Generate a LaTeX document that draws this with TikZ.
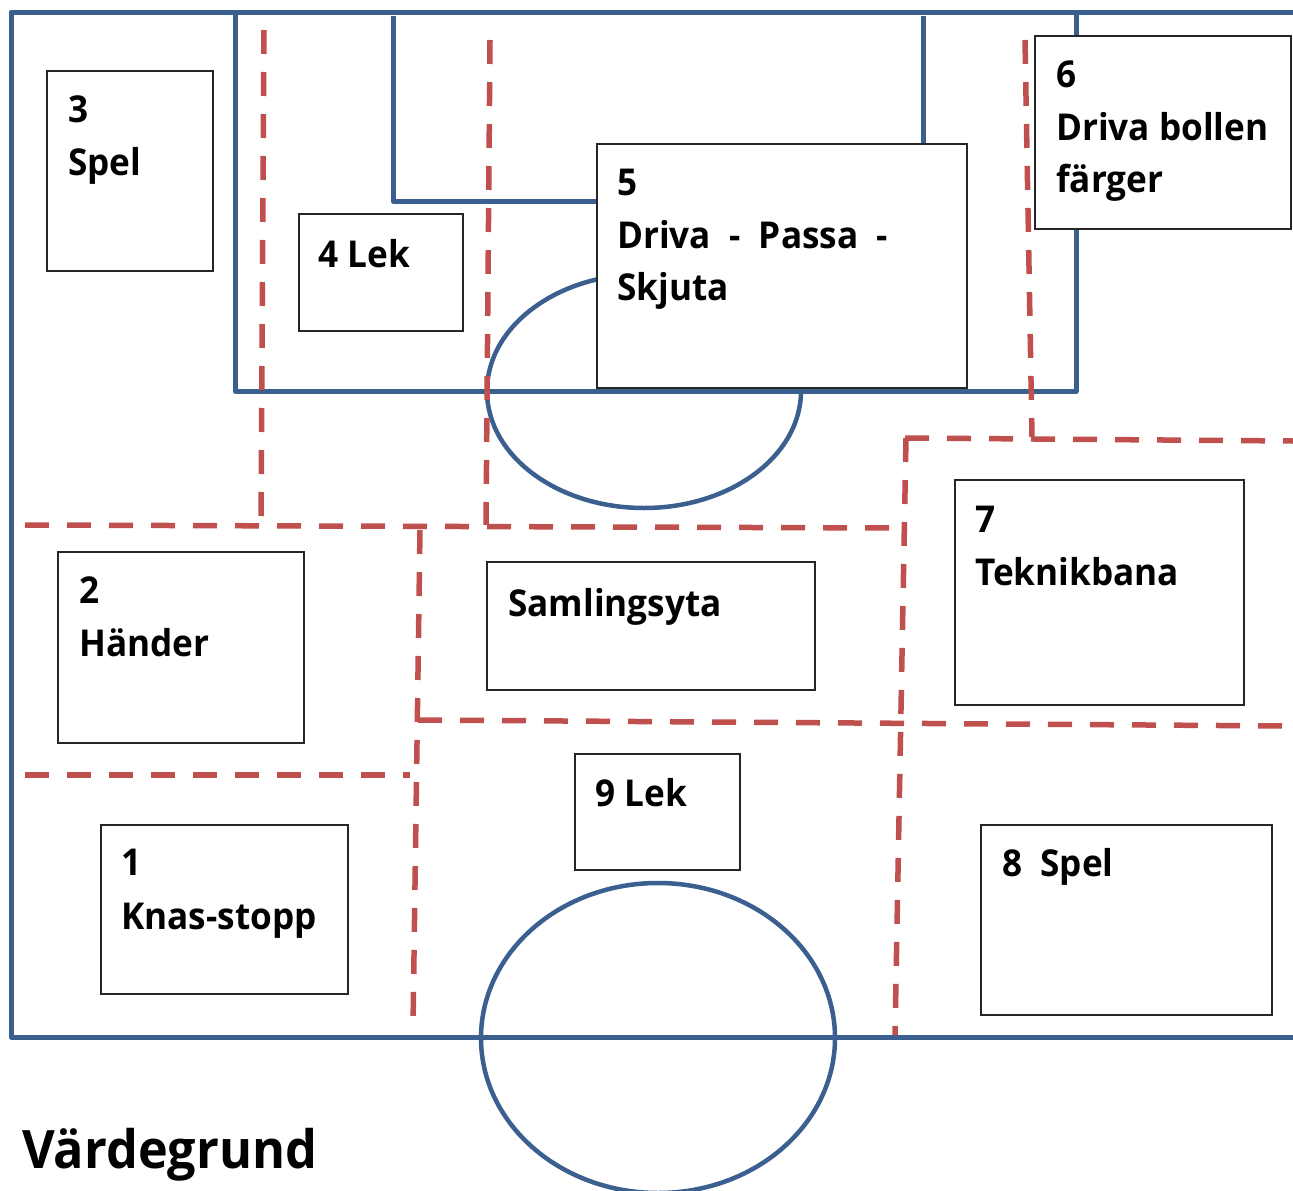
\documentclass[tikz,border=0pt]{standalone}
\usepackage{fontspec}
\setmainfont{Open Sans}[FakeStretch=0.95]
\definecolor{fieldblue}{HTML}{3B5F8E}
\definecolor{zonered}{HTML}{C0504D}
\tikzset{
  field/.style={draw=fieldblue, line width=5pt, line join=round},
  circ/.style={draw=fieldblue, line width=4.5pt},
  zone/.style={draw=zonered, line width=5.5pt, dash pattern=on 24pt off 18pt},
  area/.style={draw=black!85, line width=1.5pt, fill=white, anchor=north west, inner sep=0pt, outer sep=0pt},
  lbl/.style={anchor=base west, inner sep=0pt, font=\bfseries\fontsize{37}{44}\selectfont},
  title/.style={anchor=base west, inner sep=0pt, font=\bfseries\fontsize{53}{60}\selectfont}
}
\begin{document}
\begin{tikzpicture}[x=1pt, y=-1pt]
\useasboundingbox (0,0) rectangle (1293,1191);
\clip (0,0) rectangle (1293,1191);
\fill[white] (0,0) rectangle (1293,1191);
% field lines
\draw[field] (1300,12) -- (11,12) -- (11,1037) -- (1300,1037);
\draw[field] (235,14) -- (235,391) -- (1076,391) -- (1076,14);
\draw[field] (393,16) -- (393,201) -- (923,201) -- (923,16);
\draw[circ] (644,391) ellipse [x radius=157pt, y radius=117pt];
\draw[circ] (658,1038) ellipse [x radius=177pt, y radius=155pt];
% zone borders
\draw[zone] (264,30) -- (261,525);
\draw[zone] (490,40) -- (486,525);
\draw[zone] (1025,40) -- (1032,437);
\draw[zone] (25,525) -- (900,528);
\draw[zone] (905,438) -- (1293,441);
\draw[zone] (906,438) -- (895,1035);
\draw[zone] (25,775) -- (410,775);
\draw[zone] (420,530) -- (413,1027);
\draw[zone] (418,720) -- (1293,726);
% station boxes
\node[area, minimum width=166pt, minimum height=200pt] (b3) at (47,71) {};
\node[area, minimum width=164pt, minimum height=117pt] (b4) at (299,214) {};
\node[area, minimum width=370pt, minimum height=244pt] (b5) at (597,144) {};
\node[area, minimum width=256pt, minimum height=193pt] (b6) at (1035,36) {};
\node[area, minimum width=289pt, minimum height=225pt] (b7) at (955,480) {};
\node[area, minimum width=328pt, minimum height=128pt] (bs) at (487,562) {};
\node[area, minimum width=246pt, minimum height=191pt] (b2) at (58,552) {};
\node[area, minimum width=165pt, minimum height=116pt] (b9) at (575,754) {};
\node[area, minimum width=247pt, minimum height=169pt] (b1) at (101,825) {};
\node[area, minimum width=291pt, minimum height=190pt] (b8) at (981,825) {};
% labels
\node[lbl] (t3a) at (68,122) {3};
\node[lbl] (t3b) at (68,175) {Spel};
\node[lbl] (t4) at (318,267) {4 Lek};
\node[lbl] (t5a) at (617,195) {5};
\node[lbl] (t5b) at (617,248) {Driva \ - \ Passa \ -};
\node[lbl] (t5c) at (617,300) {Skjuta};
\node[lbl] (t6a) at (1056,87) {6};
\node[lbl] (t6b) at (1056,140) {Driva bollen};
\node[lbl] (t6c) at (1056,192) {färger};
\node[lbl] (t7a) at (975,532) {7};
\node[lbl] (t7b) at (975,585) {Teknikbana};
\node[lbl] (ts) at (508,616) {Samlingsyta};
\node[lbl] (t2a) at (79,603) {2};
\node[lbl] (t2b) at (79,656) {Händer};
\node[lbl] (t9) at (595,806) {9 Lek};
\node[lbl] (t1a) at (121,875) {1};
\node[lbl] (t1b) at (121,929) {Knas-stopp};
\node[lbl] (t8) at (1002,876) {8 \ Spel};
\node[title] (tv) at (22,1168) {Värdegrund};
\end{tikzpicture}
\end{document}
